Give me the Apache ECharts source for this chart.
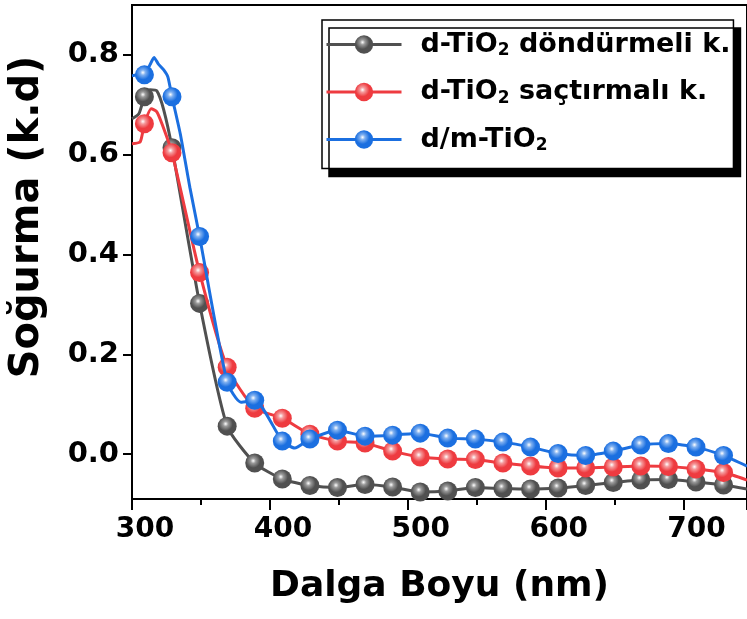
<!DOCTYPE html>
<html><head><meta charset="utf-8">
<script src="https://cdn.jsdelivr.net/npm/echarts@6/dist/echarts.min.js"></script>
<style>html,body{margin:0;padding:0;background:#fff}#c{width:747px;height:619px}</style>
</head><body><div id="c"></div>
<script>
const seriesNames = ['d-TiO2 döndürmeli k.', 'd-TiO2 saçtırmalı k.', 'd/m-TiO2'];
const seriesColors = ['#505050', '#ee3b40', '#1b6fe0'];
const xTicks = [300, 400, 500, 600, 700];
const yTicks = [0.0, 0.2, 0.4, 0.6, 0.8];
const markerNm = [309,329,349,369,389,409,429,449,469,489,509,529,549,569,589,609,629,649,669,689,709,729];
const grayMarkers = [0.716,0.614,0.302,0.056,-0.018,-0.050,-0.063,-0.067,-0.061,-0.066,-0.076,-0.074,-0.067,-0.069,-0.070,-0.068,-0.063,-0.057,-0.052,-0.051,-0.056,-0.062];
const redMarkers = [0.662,0.604,0.364,0.174,0.092,0.072,0.040,0.026,0.022,0.006,-0.006,-0.010,-0.011,-0.018,-0.024,-0.028,-0.028,-0.026,-0.024,-0.025,-0.030,-0.037];
const blueMarkers = [0.760,0.716,0.436,0.144,0.108,0.026,0.030,0.048,0.036,0.038,0.042,0.032,0.030,0.024,0.014,0.001,-0.003,0.006,0.018,0.021,0.014,-0.003];
const grayExtraNm = [300,305,313,318,323,746];
const grayExtra = [0.672,0.682,0.730,0.728,0.690,-0.070];
const redExtraNm = [300,306,314,318,322,746];
const redExtra = [0.622,0.626,0.692,0.686,0.660,-0.052];
const blueExtraNm = [300,305,313,316,319,323,326,335,342,379,418,746];
const blueExtra = [0.758,0.760,0.780,0.795,0.782,0.770,0.756,0.642,0.534,0.104,0.012,-0.024];

function build(mv, exNm, ex) {
  const pts = [];
  markerNm.forEach((n, i) => pts.push({ value: [n, mv[i]] }));
  exNm.forEach((n, i) => pts.push({ value: [n, ex[i]], symbol: 'none' }));
  pts.sort((a, b) => a.value[0] - b.value[0]);
  return pts;
}
function sphere(base, mid) {
  return new echarts.graphic.RadialGradient(0.42, 0.38, 0.62, [
    { offset: 0, color: '#ffffff' },
    { offset: 0.22, color: mid },
    { offset: 0.6, color: base },
    { offset: 1, color: base }
  ]);
}
const FONT = 'DejaVu Sans';
const datasets = [
  build(grayMarkers, grayExtraNm, grayExtra),
  build(redMarkers, redExtraNm, redExtra),
  build(blueMarkers, blueExtraNm, blueExtra)
];
const mids = ['#9a9a9a', '#f59a9c', '#7fb0f0'];
const series = seriesNames.map((name, i) => ({
  name: name,
  type: 'line',
  data: datasets[i],
  smooth: 0.2,
  symbol: 'circle',
  symbolSize: 19,
  z: 2 + i,
  lineStyle: { color: seriesColors[i], width: 3 },
  itemStyle: { color: sphere(seriesColors[i], mids[i]) },
  emphasis: { disabled: true }
}));

const chart = echarts.init(document.getElementById('c'));
chart.setOption({
  animation: false,
  backgroundColor: '#ffffff',
  grid: { left: 132, top: 5, right: 0, bottom: 120, show: true, borderColor: '#000', borderWidth: 2, backgroundColor: 'transparent' },
  legend: {
    orient: 'vertical',
    left: 322, top: 20,
    padding: [11, 3, 14, 3],
    itemGap: 19,
    itemWidth: 75, itemHeight: 23,
    backgroundColor: '#fff',
    borderColor: '#000', borderWidth: 1.5,
    shadowColor: '#000', shadowBlur: 0, shadowOffsetX: 7, shadowOffsetY: 8,
    lineStyle: { width: 3 },
    formatter: function (n) { return '{n|' + n.replace('TiO2', 'TiO}{s|2}{n|') + '}'; },
    textStyle: {
      padding: [0, 0, 0, 14],
      rich: {
        n: { fontFamily: FONT, fontWeight: 'bold', fontSize: 27, lineHeight: 30, color: '#000' },
        s: { fontFamily: FONT, fontWeight: 'bold', fontSize: 17, lineHeight: 17, verticalAlign: 'bottom', color: '#000' }
      }
    }
  },
  xAxis: {
    type: 'value', min: 300, max: 746, interval: 100,
    name: 'Dalga Boyu (nm)', nameLocation: 'middle', nameGap: 70,
    nameTextStyle: { fontFamily: FONT, fontWeight: 'bold', fontSize: 36, color: '#000' },
    axisLine: { onZero: false, lineStyle: { color: '#000', width: 2 } },
    axisTick: { show: true, inside: false, length: 11, lineStyle: { color: '#000', width: 2 } },
    minorTick: { show: true, splitNumber: 2, length: 6, lineStyle: { color: '#000', width: 2 } },
    splitLine: { show: false },
    axisLabel: {
      customValues: xTicks,
      margin: 17, fontFamily: FONT, fontWeight: 'bold', fontSize: 28, color: '#000',
      padding: [0, 0, 0, 26],
      formatter: v => String(v)
    }
  },
  yAxis: {
    type: 'value', min: -0.09, max: 0.9,
    name: 'Soğurma (k.d)', nameLocation: 'middle', nameGap: 84, nameRotate: 90,
    nameTextStyle: { fontFamily: FONT, fontWeight: 'bold', fontSize: 40, color: '#000', padding: [0, 0, 0, 70] },
    axisLine: { onZero: false, lineStyle: { color: '#000', width: 2 } },
    axisTick: { show: true, customValues: yTicks, inside: false, length: 9, lineStyle: { color: '#000', width: 2 } },
    splitLine: { show: false },
    axisLabel: {
      customValues: yTicks,
      margin: 13, fontFamily: FONT, fontWeight: 'bold', fontSize: 29, color: '#000',
      formatter: v => v.toFixed(1)
    }
  },
  series: series
});
</script>
</body></html>
